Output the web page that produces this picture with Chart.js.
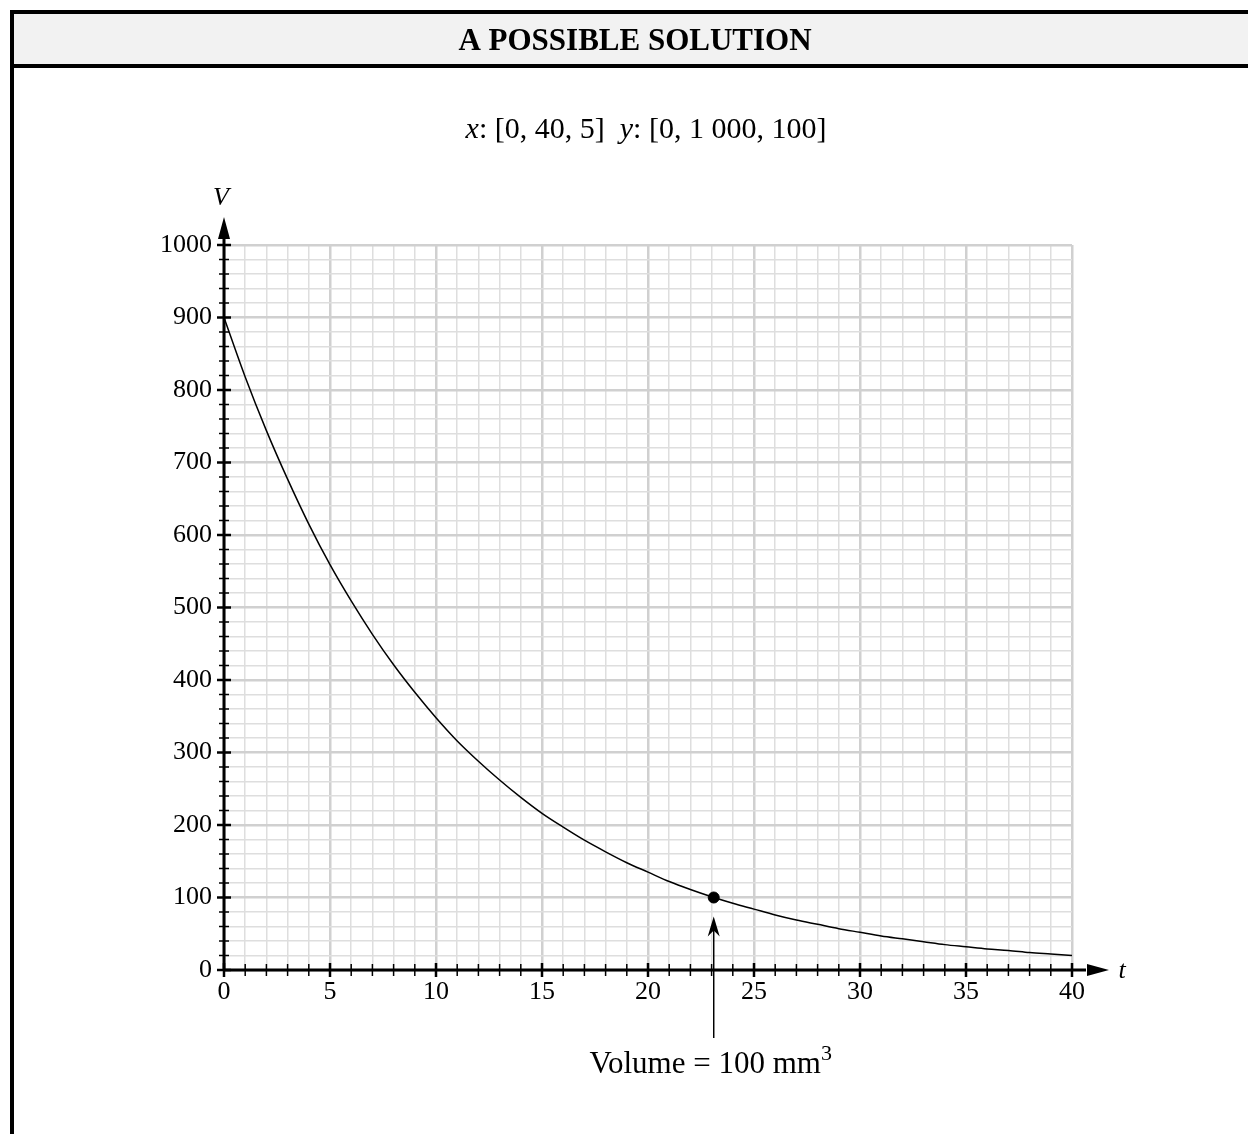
<!DOCTYPE html>
<html>
<head>
<meta charset="utf-8">
<script src="https://cdn.jsdelivr.net/npm/chart.js@4.4.1/dist/chart.umd.min.js"></script>
<style>
    html, body { margin: 0; padding: 0; background: #fff; }
    canvas { display: block; }
</style>
</head>
<body>
<canvas id="graph" width="1248" height="1134"></canvas>
<script>
// time t (x axis) and volume V (y axis)
const tValues = [0, 1, 2, 3, 4, 5, 6, 7, 8, 9, 10, 11, 12, 13, 14, 15, 16, 17, 18, 19, 20,
    21, 22, 23, 24, 25, 26, 27, 28, 29, 30, 31, 32, 33, 34, 35, 36, 37, 38, 39, 40];
const vValues = [900, 818, 744, 677, 615, 559, 509, 463, 421, 383, 348, 316, 288, 262, 238, 216, 197, 179, 163, 148, 135,
    122, 111, 101, 92, 84, 76, 69, 63, 57, 52, 47, 43, 39, 35, 32, 29, 27, 24, 22, 20];

// marked solution point
const solutionT = [23.1];
const solutionV = [100];

// labelled ticks
const xLabels = [0, 5, 10, 15, 20, 25, 30, 35, 40];
const yLabels = [0, 100, 200, 300, 400, 500, 600, 700, 800, 900, 1000];

const SERIF = '"Liberation Serif", "Times New Roman", serif';

const arrowHead = (c, x, y, dir, len, half) => {
    c.beginPath();
    if (dir === 'up') {
        c.moveTo(x, y); c.lineTo(x - half, y + len); c.lineTo(x + half, y + len);
    } else {
        c.moveTo(x, y); c.lineTo(x - len, y - half); c.lineTo(x - len, y + half);
    }
    c.closePath();
    c.fill();
};

const paperPlugin = {
    id: 'paper',
    beforeDraw(chart) {
        const c = chart.ctx;
        const W = chart.width, H = chart.height;
        c.save();
        c.fillStyle = '#fff';
        c.fillRect(0, 0, W, H);

        // header band and frame
        c.fillStyle = '#f2f2f2';
        c.fillRect(12, 12, W, 54);
        c.fillStyle = '#000';
        c.fillRect(10, 10, W, 4);
        c.fillRect(10, 10, 4, H);
        c.fillRect(10, 64, W, 4);

        c.textAlign = 'center';
        c.textBaseline = 'alphabetic';
        c.font = 'bold 31px ' + SERIF;
        c.fillText('A POSSIBLE SOLUTION', 635, 50);

        // window settings line, x and y in italics
        const parts = [
            { s: 'x', i: true }, { s: ': [0, 40, 5]  ' },
            { s: 'y', i: true }, { s: ': [0, 1 000, 100]' }
        ];
        const fontOf = p => (p.i ? 'italic ' : '') + '30px ' + SERIF;
        let total = 0;
        parts.forEach(p => { c.font = fontOf(p); total += c.measureText(p.s).width; });
        let x = 646 - total / 2;
        c.textAlign = 'left';
        parts.forEach(p => {
            c.font = fontOf(p);
            c.fillText(p.s, x, 138);
            x += c.measureText(p.s).width;
        });
        c.restore();
    },
    afterDraw(chart) {
        const c = chart.ctx;
        const xs = chart.scales.x, ys = chart.scales.y;
        const x0 = xs.getPixelForValue(0), y0 = ys.getPixelForValue(0);
        const xEnd = xs.getPixelForValue(40), yTop = ys.getPixelForValue(1000);
        c.save();
        c.strokeStyle = '#000';
        c.fillStyle = '#000';

        // axes
        c.lineWidth = 3;
        c.beginPath();
        c.moveTo(x0, y0 + 1); c.lineTo(x0, yTop - 14);
        c.moveTo(x0 - 1, y0); c.lineTo(xEnd + 14, y0);
        c.stroke();
        arrowHead(c, x0, yTop - 28, 'up', 22, 6);
        arrowHead(c, xEnd + 37, y0, 'right', 22, 6);

        // tick marks through the axes
        for (let v = 0; v <= 1000; v += 20) {
            const p = ys.getPixelForValue(v);
            const major = v % 100 === 0;
            c.lineWidth = major ? 2.5 : 1.5;
            c.beginPath();
            c.moveTo(x0 - (major ? 7 : 5), p); c.lineTo(x0 + (major ? 7 : 5), p);
            c.stroke();
        }
        for (let t = 0; t <= 40; t += 1) {
            const p = xs.getPixelForValue(t);
            const major = t % 5 === 0;
            c.lineWidth = major ? 2.5 : 1.5;
            c.beginPath();
            c.moveTo(p, y0 - (major ? 7 : 6)); c.lineTo(p, y0 + (major ? 7 : 6));
            c.stroke();
        }

        // axis names
        c.font = 'italic 26px ' + SERIF;
        c.textAlign = 'center';
        c.textBaseline = 'middle';
        c.fillText('V', x0 - 3, yTop - 47);
        c.fillText('t', xEnd + 50, y0 + 1);

        // annotation arrow to the solution point
        const sx = xs.getPixelForValue(solutionT[0]);
        const sy = ys.getPixelForValue(solutionV[0]);
        c.lineWidth = 1.5;
        c.beginPath();
        c.moveTo(sx, y0 + 68); c.lineTo(sx, sy + 28);
        c.stroke();
        c.beginPath();
        c.moveTo(sx, sy + 19);
        c.lineTo(sx - 6, sy + 39);
        c.lineTo(sx, sy + 33);
        c.lineTo(sx + 6, sy + 39);
        c.closePath();
        c.fill();

        // label with superscript
        c.textBaseline = 'alphabetic';
        c.textAlign = 'left';
        c.font = '31px ' + SERIF;
        const main = 'Volume = 100 mm';
        const mw = c.measureText(main).width;
        c.font = '22px ' + SERIF;
        const sw = c.measureText('3').width;
        const lx = sx - 3 - (mw + sw) / 2;
        c.font = '31px ' + SERIF;
        c.fillText(main, lx, y0 + 103);
        c.font = '22px ' + SERIF;
        c.fillText('3', lx + mw, y0 + 90);
        c.restore();
    }
};

const gridColor = major => major ? 'rgb(208, 208, 208)' : 'rgb(222, 222, 222)';

new Chart(document.getElementById('graph').getContext('2d'), {
    type: 'scatter',
    data: {
        datasets: [{
            label: 'V',
            data: tValues.map((t, i) => ({ x: t, y: vValues[i] })),
            showLine: true,
            borderColor: '#000',
            borderWidth: 1.5,
            pointRadius: 0,
            cubicInterpolationMode: 'monotone'
        }, {
            label: 'solution',
            data: solutionT.map((t, i) => ({ x: t, y: solutionV[i] })),
            pointRadius: 5.5,
            pointBackgroundColor: '#000',
            pointBorderColor: '#000',
            clip: false
        }]
    },
    options: {
        responsive: false,
        animation: false,
        devicePixelRatio: 1,
        layout: { padding: { left: 144, right: 176, top: 245, bottom: 114 } },
        plugins: {
            legend: { display: false },
            tooltip: { enabled: false }
        },
        scales: {
            x: {
                type: 'linear',
                min: 0,
                max: 40,
                afterFit: s => { s.height = 50; },
                border: { display: false },
                grid: {
                    drawTicks: false,
                    color: ctx => gridColor(ctx.tick.value % 5 === 0),
                    lineWidth: ctx => ctx.tick.value % 5 === 0 ? 2.5 : 1.5
                },
                ticks: {
                    stepSize: 1,
                    autoSkip: false,
                    maxRotation: 0,
                    padding: 7,
                    color: '#000',
                    font: { family: SERIF, size: 26 },
                    callback: v => xLabels.includes(v) ? String(v) : ''
                }
            },
            y: {
                type: 'linear',
                min: 0,
                max: 1000,
                afterFit: s => { s.width = 80; },
                border: { display: false },
                grid: {
                    drawTicks: false,
                    color: ctx => gridColor(ctx.tick.value % 100 === 0),
                    lineWidth: ctx => ctx.tick.value % 100 === 0 ? 2.5 : 1.5
                },
                ticks: {
                    stepSize: 20,
                    autoSkip: false,
                    padding: 12,
                    color: '#000',
                    font: { family: SERIF, size: 26 },
                    callback: v => yLabels.includes(v) ? String(v) : ''
                }
            }
        }
    },
    plugins: [paperPlugin]
});
</script>
</body>
</html>
